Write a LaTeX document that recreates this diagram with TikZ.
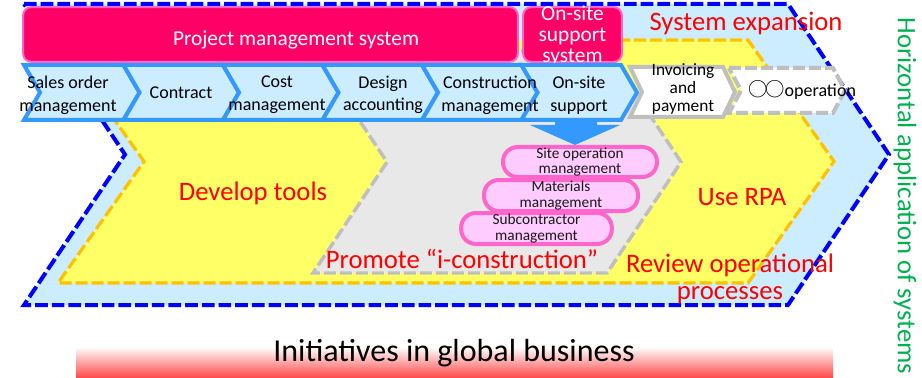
\documentclass[tikz,border=0pt]{standalone}
\usepackage{fontspec}
\setmainfont{Carlito}
\newfontfamily\symbfont{Noto Sans CJK JP}
\usetikzlibrary{calc}
\usetikzlibrary{positioning}

\definecolor{dashblue}{RGB}{0,0,255}
\definecolor{skyfill}{RGB}{204,236,255}
\definecolor{yellowfill}{RGB}{255,255,102}
\definecolor{dashgold}{RGB}{255,192,0}
\definecolor{grayfill}{RGB}{232,232,232}
\definecolor{dashgray}{RGB}{191,191,191}
\definecolor{rowblue}{RGB}{51,153,255}
\definecolor{sysred}{RGB}{255,0,102}
\definecolor{sysline}{RGB}{255,102,204}
\definecolor{taskfill}{RGB}{255,204,255}
\definecolor{barred}{RGB}{255,70,70}
\definecolor{sysgreen}{RGB}{0,176,80}

% Winkelpfeil: [Stil]{links}{rechts}{oben}{unten}{Tiefe}
\newcommand{\chevbox}[6][]{%
  \draw[#1] ({#2},{#4}) -- ({#3},{#4}) -- ({#3+#6},{(#4+#5)/2})
    -- ({#3},{#5}) -- ({#2},{#5}) -- ({#2+#6},{(#4+#5)/2}) -- cycle;}

\tikzset{
  outerarrow/.style={draw=dashblue, fill=skyfill, line width=3pt, dash pattern=on 9.5pt off 3pt},
  toolarrow/.style={draw=dashgold, fill=yellowfill, line width=2.4pt, dash pattern=on 9pt off 3pt},
  iconarrow/.style={draw=dashgray, fill=grayfill, line width=2.6pt, dash pattern=on 9pt off 3pt},
  procarrow/.style={draw=rowblue, fill=skyfill, line width=3pt},
  nextarrow/.style={draw=dashgray, fill=white, line width=3pt},
  sysbox/.style={draw=sysline, fill=sysred, line width=1.5pt, rounded corners=6pt},
  systext/.style={text=white, font=\fontsize{16}{15.75}\selectfont, align=center, inner sep=0pt},
  proctext/.style={font=\fontsize{13.5}{17}\selectfont, align=center, inner sep=0pt},
  taskbox/.style={draw=sysline, fill=taskfill, line width=3pt, rounded corners=11pt,
    inner sep=0pt, align=center, text=black!90, font=\fontsize{11.5}{11.3}\selectfont},
  goal/.style={text=red, font=\fontsize{20}{20.5}\selectfont, align=center, inner sep=0pt},
}

\begin{document}
\begin{tikzpicture}[x=0.75pt, y=-0.75pt]
  \useasboundingbox (0,0) rectangle (922,378);

  % Flaechen
  \chevbox[outerarrow]{24}{788}{4}{305}{101}
  \chevbox[toolarrow]{58}{748}{40}{283}{86}
  \chevbox[iconarrow]{313}{607}{51}{273}{74}

  % Systeme oben
  \node[sysbox, minimum width=371pt, minimum height=41pt] (pms) at (270.5,34.5) {};
  \node[systext] (pmslabel) at (296,40) {Project management system};
  \node[sysbox, minimum width=74pt, minimum height=41pt] (oss) at (572.5,34.5) {};
  \node[systext] (osslabel) at (572.5,36) {On-site\\support\\system};

  % Pfeil nach unten
  \fill[rowblue] (555,118) -- (597,118) -- (597,125) -- (620,125) -- (575,145)
    -- (530,125) -- (555,125) -- cycle;

  % Prozesskette
  \foreach \i in {0,...,5} {
    \chevbox[procarrow]{24+99.5*\i}{123.5+99.5*\i}{65}{120}{16}
  }
  \chevbox[nextarrow]{630}{723}{67}{117}{12}
  \chevbox[nextarrow, dash pattern=on 9pt off 3pt]{729}{833}{68}{113}{12}

  \node[proctext] (sales) at (68,95) {Sales order\\management};
  \node[proctext] (contract) at (181,93) {Contract};
  \node[proctext] (cost) at (277,95) {Cost\\management};
  \node[proctext] (design) at (383,95) {Design\\accounting};
  \node[proctext] (construction) at (490,95) {Construction\\management};
  \node[proctext] (onsite) at (579,95) {On-site\\support};
  \node[proctext, font=\fontsize{13}{13.5}\selectfont] (invoicing) at (683,89) {Invoicing\\and\\payment};
  \node[proctext] (operation) at (802,90) {{\symbfont\fontsize{14.5}{17}\selectfont ○\kern-1.5pt○}operation};

  % Werkzeuge vor Ort
  \node[taskbox, minimum width=115.5pt, minimum height=22.5pt] (siteop) at (580,162) {Site operation\\management};
  \node[taskbox, minimum width=115.5pt, minimum height=23.25pt] (material) at (561,195.5) {Materials\\management};
  \node[taskbox, minimum width=113pt, minimum height=23.25pt] (subcon) at (536.5,228.5) {Subcontractor\\management};

  % Ziele
  \node[goal] (expansion) at (746,23) {System expansion};
  \node[goal] (tools) at (253,193) {Develop tools};
  \node[goal] (rpa) at (742,197) {Use RPA};
  \node[goal] (icon) at (462,259) {Promote “i-construction”};
  \node[goal] (review) at (730,279) {Review operational\\processes};

  \node[text=sysgreen, rotate=-90, font=\fontsize{20}{24}\selectfont, inner sep=0pt] (horizontal) at (905,196) {Horizontal application of systems};

  \shade[top color=white, bottom color=barred] (76,347) rectangle (833,378);
  \node[font=\fontsize{24}{28}\selectfont, inner sep=0pt] (global) at (454,353) {Initiatives in global business};
\end{tikzpicture}
\end{document}
